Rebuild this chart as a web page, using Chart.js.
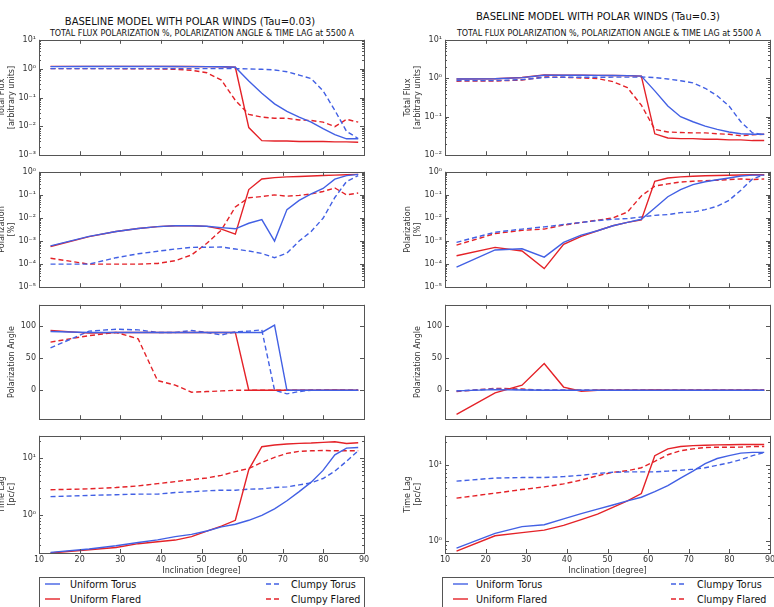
<!DOCTYPE html>
<html>
<head>
<meta charset="utf-8">
<script src="https://cdn.jsdelivr.net/npm/chart.js@4.4.0/dist/chart.umd.min.js"></script>
<style>
body { margin:0; width:774px; height:607px; overflow:hidden; background:#fff; position:relative; font-family:"DejaVu Sans", sans-serif; }
canvas { position:absolute; }
.t { position:absolute; white-space:nowrap; transform:translate(-50%,-50%); color:#111; }
.box { position:absolute; border:1px solid #555; height:40px; }
.lt { position:absolute; white-space:nowrap; font-size:9.6px; color:#111; transform:translateY(-50%); }
svg { position:absolute; overflow:visible; }
</style>
</head>
<body>
<div class="t" style="left:190px;top:21px;font-size:10px">BASELINE MODEL WITH POLAR WINDS (Tau=0.03)</div>
<div class="t" style="left:202px;top:33px;font-size:8px">TOTAL FLUX POLARIZATION %, POLARIZATION ANGLE &amp; TIME LAG at 5500 A</div>
<div class="t" style="left:598px;top:16px;font-size:10px">BASELINE MODEL WITH POLAR WINDS (Tau=0.3)</div>
<div class="t" style="left:609px;top:33px;font-size:8px">TOTAL FLUX POLARIZATION %, POLARIZATION ANGLE &amp; TIME LAG at 5500 A</div>

<canvas id="f1"></canvas><canvas id="p1"></canvas><canvas id="a1"></canvas><canvas id="l1"></canvas>
<canvas id="f2"></canvas><canvas id="p2"></canvas><canvas id="a2"></canvas><canvas id="l2"></canvas>

<div class="box" style="left:39px;top:577px;width:324px"></div>
<div class="box" style="left:442px;top:577px;width:340px"></div>
<div id="leg"></div>

<script>
// inclination bins [degree]
var incl = [12.84, 22.33, 28.96, 34.42, 39.19, 43.53, 47.55, 51.32, 54.90, 58.33,
            61.64, 64.85, 67.98, 71.03, 74.04, 77.00, 79.92, 82.82, 85.70, 88.57];

var seriesNames = ['Uniform Torus', 'Uniform Flared', 'Clumpy Torus', 'Clumpy Flared'];

// ---- Tau = 0.03 ----
var fluxUT03 = [1.18,1.19,1.19,1.19,1.19,1.19,1.18,1.18,1.17,1.12,0.37,0.14,0.06,0.033,0.021,0.014,0.0083,0.0052,0.0037,0.0037];
var fluxUF03 = [1.2,1.2,1.2,1.2,1.2,1.19,1.19,1.18,1.17,1.12,0.0091,0.0032,0.0031,0.0031,0.003,0.003,0.003,0.0029,0.0029,0.0028];
var fluxCT03 = [1.0,1.0,1.0,1.0,1.0,1.0,1.0,1.0,1.0,1.0,0.98,0.95,0.9,0.78,0.6,0.45,0.17,0.036,0.0067,0.0038];
var fluxCF03 = [1.0,1.0,1.0,0.99,0.98,0.95,0.88,0.72,0.4,0.08,0.026,0.021,0.019,0.019,0.0166,0.016,0.014,0.0098,0.0175,0.014];

var polUT03 = [6.2e-4,1.6e-3,2.6e-3,3.5e-3,4.2e-3,4.6e-3,4.6e-3,4.4e-3,3.8e-3,3.4e-3,5.9e-3,8.5e-3,1.0e-3,0.023,0.058,0.11,0.19,0.48,0.68,0.77];
var polUF03 = [5.8e-4,1.55e-3,2.6e-3,3.5e-3,4.2e-3,4.6e-3,4.6e-3,4.3e-3,3.3e-3,2.0e-3,0.17,0.49,0.56,0.6,0.63,0.66,0.69,0.72,0.75,0.77];
var polCT03 = [1e-4,1e-4,1.9e-4,2.8e-4,3.6e-4,4.5e-4,5.3e-4,5.4e-4,5.5e-4,4.5e-4,3.7e-4,2.9e-4,1.9e-4,3e-4,1e-3,2.6e-3,9.7e-3,0.077,0.38,0.68];
var polCF03 = [1.8e-4,1.0e-4,1e-4,1e-4,1.07e-4,1.4e-4,2.5e-4,8e-4,3.0e-3,0.03,0.075,0.085,0.1,0.088,0.095,0.11,0.14,0.2,0.1,0.12];

var angUT03 = [91.5,90,90,90,90,90,90,90,90,90,90,90,101.5,0,0,0,0,0,0,0];
var angUF03 = [93,89,90,90,90,90,90,90,90,90,0,0,0,0,0,0,0,0.5,0,0];
var angCT03 = [66,92,95,94,90,90,93,90,86,91,92,94,0,-5.5,-2,0,0,0,0,0];
var angCF03 = [75,85,90,80,15,8,-3,-2,-1,0,0,0,0,0,0,0,0,0,0,0];

var lagUT03 = [0.226,0.258,0.294,0.335,0.373,0.425,0.466,0.532,0.63,0.70,0.82,1.0,1.3,1.8,2.6,3.8,6.1,11.4,14.9,15.3];
var lagUF03 = [0.22,0.25,0.275,0.32,0.345,0.37,0.425,0.53,0.65,0.82,6.3,15.8,16.9,17.6,18.1,18.3,18.8,19.3,18.0,18.5];
var lagCT03 = [2.12,2.23,2.29,2.35,2.35,2.5,2.58,2.68,2.75,2.75,2.86,2.9,3.06,3.14,3.4,3.7,4.4,5.9,8.8,13.4];
var lagCF03 = [2.8,2.9,3.06,3.27,3.58,3.88,4.2,4.5,5.0,5.8,6.6,8.4,10.3,12.1,13.1,13.4,13.6,13.4,13.4,13.4];

// ---- Tau = 0.3 ----
var fluxUT3 = [0.96,0.97,1.04,1.2,1.2,1.2,1.19,1.18,1.17,1.14,0.47,0.19,0.10,0.074,0.057,0.047,0.04,0.036,0.035,0.035];
var fluxUF3 = [0.96,0.97,1.05,1.22,1.21,1.2,1.19,1.18,1.17,1.14,0.036,0.028,0.027,0.027,0.026,0.026,0.025,0.025,0.024,0.024];
var fluxCT3 = [0.87,0.87,0.92,1.05,1.06,1.06,1.06,1.07,1.07,1.08,1.04,0.96,0.86,0.76,0.55,0.35,0.19,0.074,0.038,0.034];
var fluxCF3 = [0.84,0.85,0.9,1.08,1.06,1.02,0.98,0.82,0.57,0.2,0.047,0.04,0.039,0.038,0.038,0.036,0.035,0.032,0.034,0.035];

var polUT3 = [7.4e-5,4.1e-4,4.6e-4,2e-4,8.8e-4,1.8e-3,2.8e-3,4.6e-3,6.4e-3,8.8e-3,0.027,0.083,0.17,0.28,0.37,0.45,0.54,0.66,0.72,0.72];
var polUF3 = [2.3e-4,5.3e-4,3.7e-4,6.4e-5,7.2e-4,1.6e-3,2.8e-3,4.6e-3,6.4e-3,8.2e-3,0.39,0.54,0.6,0.64,0.67,0.69,0.71,0.73,0.75,0.75];
var polCT3 = [8.8e-4,2.4e-3,3.3e-3,4.1e-3,5.2e-3,6.4e-3,7.7e-3,8.8e-3,9.4e-3,0.011,0.013,0.014,0.017,0.018,0.023,0.032,0.058,0.16,0.49,0.75];
var polCF3 = [6.7e-4,2.1e-3,2.9e-3,3.3e-3,4.9e-3,6.4e-3,8e-3,0.01,0.018,0.09,0.24,0.3,0.36,0.39,0.41,0.43,0.46,0.49,0.46,0.49];

var angUT3 = [-1,1,0.5,0,0,0,0,0,0,0,0,0,0,0,0,0,0,0,0,0];
var angUF3 = [-37.5,-4,8,41.5,5,-1.5,0,0,0,0,0.5,0,0,0,0,0,0,0,0,0];
var angCT3 = [-1,2,1,0,0,0,0,0,0,0,0,0,0,0,0,0,0,0,0,0];
var angCF3 = [-2,3,2,0,0,0,0,0,0,0,0,0,0,0,0,0,0,0,0,0];

var lagUT3 = [0.81,1.27,1.56,1.65,1.97,2.31,2.65,3.0,3.4,3.8,4.5,5.4,6.8,8.4,10.5,12.3,13.4,14.5,14.8,14.8];
var lagUF3 = [0.74,1.18,1.3,1.4,1.62,1.93,2.28,2.8,3.4,4.25,13.4,16.5,17.7,18.2,18.4,18.6,18.7,18.8,18.8,18.8];
var lagCT3 = [6.2,6.8,6.9,6.9,7.1,7.4,7.8,8.1,8.2,8.2,8.2,8.4,8.6,8.9,9.3,10,10.8,11.9,13.4,14.8];
var lagCF3 = [3.7,4.3,4.8,5.2,5.7,6.4,7.3,8.1,8.5,9.3,11.3,13.8,15.6,16.5,17.2,17.3,17.3,17.4,17.7,17.7];

var BLUE = 'rgb(66,96,228)', RED = 'rgb(228,34,40)';
var FONT = '"DejaVu Sans", sans-serif';
var colors = [BLUE, RED, BLUE, RED];
var dashes = [[], [], [5, 3], [5, 3]];

function sup(n) {
  var m = {'-':'\u207B','0':'\u2070','1':'\u00B9','2':'\u00B2','3':'\u00B3','4':'\u2074','5':'\u2075'};
  return String(n).split('').map(function(c) { return m[c]; }).join('');
}

// matplotlib style box with inward ticks
var framePlugin = {
  id: 'frame',
  afterDatasetsDraw: function(chart) {
    var a = chart.chartArea, c = chart.ctx, xs = chart.scales.x, ys = chart.scales.y;
    c.save();
    c.strokeStyle = '#555';
    c.lineWidth = 1;
    c.beginPath();
    xs.ticks.forEach(function(t) {
      var px = Math.round(xs.getPixelForValue(t.value)) + 0.5;
      c.moveTo(px, a.bottom); c.lineTo(px, a.bottom - 4);
      c.moveTo(px, a.top); c.lineTo(px, a.top + 4);
    });
    ys.ticks.forEach(function(t) {
      var py = Math.round(ys.getPixelForValue(t.value)) + 0.5;
      c.moveTo(a.left, py); c.lineTo(a.left + 4, py);
      c.moveTo(a.right, py); c.lineTo(a.right - 4, py);
    });
    if (ys.type === 'logarithmic') {
      for (var k = Math.floor(Math.log10(ys.min)); k <= Math.ceil(Math.log10(ys.max)); k++) {
        for (var m = 2; m <= 9; m++) {
          var v = m * Math.pow(10, k);
          if (v <= ys.min || v >= ys.max) continue;
          var py = Math.round(ys.getPixelForValue(v)) + 0.5;
          c.moveTo(a.left, py); c.lineTo(a.left + 2, py);
          c.moveTo(a.right, py); c.lineTo(a.right - 2, py);
        }
      }
    }
    c.stroke();
    c.strokeRect(Math.round(a.left) + 0.5, Math.round(a.top) + 0.5,
                 Math.round(a.right - a.left), Math.round(a.bottom - a.top));
    c.restore();
  }
};

function panel(id, left, top, h, series, yopt, bottom) {
  var cv = document.getElementById(id);
  var W = 378, H = 6 + h + (bottom ? 24 : 6);
  cv.width = W; cv.height = H;
  cv.style.left = (left - 45) + 'px';
  cv.style.top = (top - 6) + 'px';

  var yScale = {
    type: yopt.type, min: yopt.min, max: yopt.max,
    grid: { display: false, drawTicks: false },
    border: { display: false },
    ticks: { font: { size: 8, family: FONT }, color: '#333', padding: 3, autoSkip: false },
    title: { display: true, text: yopt.title, font: { size: 8, family: FONT, lineHeight: 1.25 },
             color: '#333', padding: { top: yopt.tpad, bottom: 0 } },
    afterBuildTicks: function(s) { s.ticks = yopt.ticks.map(function(v) { return { value: v }; }); },
    afterFit: function(s) { s.width = 45; }
  };
  if (yopt.type === 'logarithmic') {
    yScale.ticks.callback = function(v) { return '10' + sup(Math.round(Math.log10(v))); };
  }

  new Chart(cv, {
    type: 'line',
    data: {
      datasets: series.map(function(arr, i) {
        return {
          label: seriesNames[i],
          data: incl.map(function(x, j) { return { x: x, y: arr[j] }; }),
          borderColor: colors[i],
          borderDash: dashes[i],
          borderWidth: 1.4,
          pointRadius: 0,
          tension: 0,
          fill: false
        };
      })
    },
    options: {
      responsive: false,
      animation: false,
      layout: { padding: { left: 0, top: 6, right: 8, bottom: bottom ? 0 : 6 } },
      plugins: { legend: { display: false }, tooltip: { enabled: false } },
      scales: {
        x: {
          type: 'linear', min: 10, max: 90,
          grid: { display: false, drawTicks: false },
          border: { display: false },
          ticks: { display: bottom, stepSize: 10, autoSkip: false, maxRotation: 0,
                   font: { size: 8, family: FONT }, color: '#333', padding: 2 },
          title: { display: bottom, text: 'Inclination [degree]', font: { size: 8, family: FONT, lineHeight: 1.25 },
                   color: '#333', padding: { top: 0, bottom: 1 } },
          afterFit: function(s) { s.height = bottom ? 24 : 0; }
        },
        y: yScale
      }
    },
    plugins: [framePlugin]
  });
}

var two = 3, one = 13;
var colLeft = [39, 445];
var rowTop = [38, 170, 303, 434];
var rowH = [119, 119, 118, 119];

var fluxAxis03 = { type: 'logarithmic', min: 1e-3, max: 10, ticks: [1e-3, 1e-2, 1e-1, 1, 10], title: ['Total Flux', '[arbitrary units]'], tpad: two };
var fluxAxis3 = { type: 'logarithmic', min: 1e-2, max: 10, ticks: [1e-2, 1e-1, 1, 10], title: ['Total Flux', '[arbitrary units]'], tpad: two };
var polAxis = { type: 'logarithmic', min: 1e-5, max: 1, ticks: [1e-5, 1e-4, 1e-3, 1e-2, 1e-1, 1], title: ['Polarization', '[%]'], tpad: two };
var angAxis = { type: 'linear', min: -45, max: 133, ticks: [0, 50, 100], title: 'Polarization Angle', tpad: one };
var lagAxis03 = { type: 'logarithmic', min: 0.22, max: 24.5, ticks: [1, 10], title: ['Time Lag', '[pc/c]'], tpad: two };
var lagAxis3 = { type: 'logarithmic', min: 0.73, max: 24.5, ticks: [1, 10], title: ['Time Lag', '[pc/c]'], tpad: two };

panel('f1', colLeft[0], rowTop[0], rowH[0], [fluxUT03, fluxUF03, fluxCT03, fluxCF03], fluxAxis03, false);
panel('p1', colLeft[0], rowTop[1], rowH[1], [polUT03, polUF03, polCT03, polCF03], polAxis, false);
panel('a1', colLeft[0], rowTop[2], rowH[2], [angUT03, angUF03, angCT03, angCF03], angAxis, false);
panel('l1', colLeft[0], rowTop[3], rowH[3], [lagUT03, lagUF03, lagCT03, lagCF03], lagAxis03, true);

panel('f2', colLeft[1], rowTop[0], rowH[0], [fluxUT3, fluxUF3, fluxCT3, fluxCF3], fluxAxis3, false);
panel('p2', colLeft[1], rowTop[1], rowH[1], [polUT3, polUF3, polCT3, polCF3], polAxis, false);
panel('a2', colLeft[1], rowTop[2], rowH[2], [angUT3, angUF3, angCT3, angCF3], angAxis, false);
panel('l2', colLeft[1], rowTop[3], rowH[3], [lagUT3, lagUF3, lagCT3, lagCF3], lagAxis3, true);

// legends below each column (2 x 2 entries)
var legSpots = [
  { x0: 45, tx0: 70, x1: 266, tx1: 291 },
  { x0: 453, tx0: 476, x1: 671, tx1: 697 }
];
var legRows = [584, 599];
var html = '';
legSpots.forEach(function(s) {
  [0, 1, 2, 3].forEach(function(i) {
    var right = i >= 2, y = legRows[i % 2];
    var lx = right ? s.x1 : s.x0, tx = right ? s.tx1 : s.tx0;
    html += '<svg style="left:' + lx + 'px;top:' + y + 'px" width="16" height="1">' +
      '<line x1="0" y1="0" x2="15" y2="0" stroke="' + colors[i] + '" stroke-width="1.4"' +
      (right ? ' stroke-dasharray="5,3"' : '') + '/></svg>';
    html += '<div class="lt" style="left:' + tx + 'px;top:' + y + 'px">' + seriesNames[i] + '</div>';
  });
});
document.getElementById('leg').innerHTML = html;
</script>
</body>
</html>
